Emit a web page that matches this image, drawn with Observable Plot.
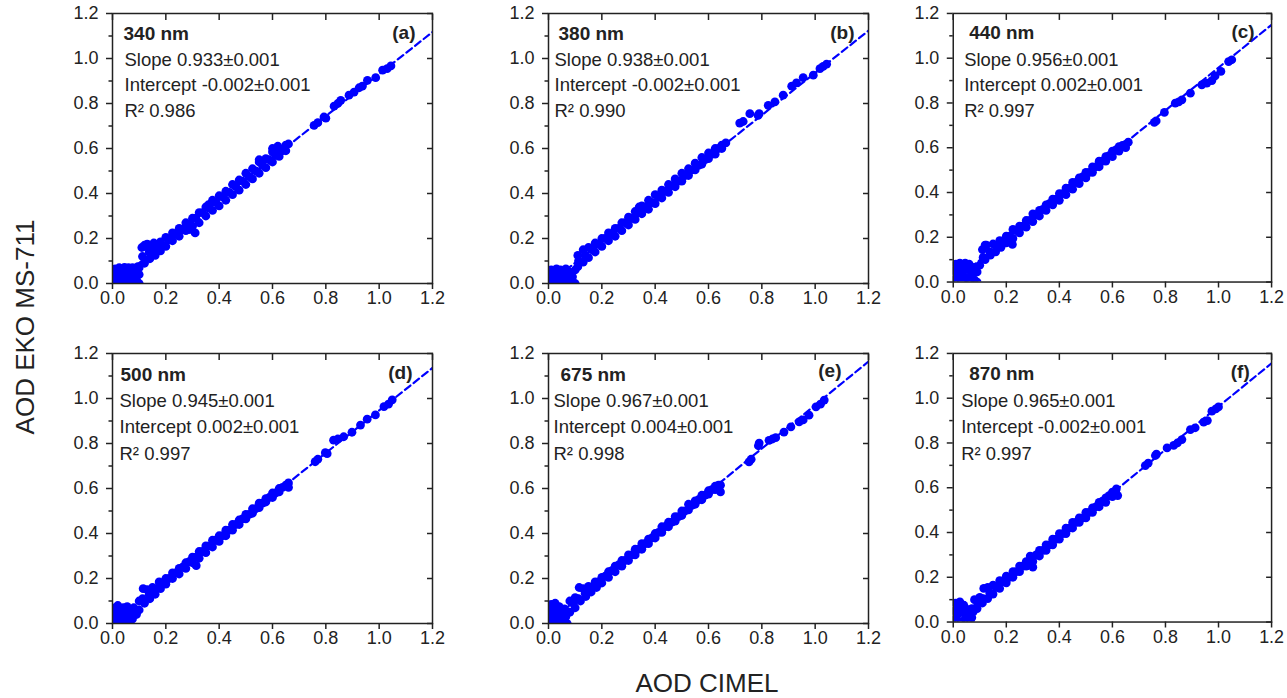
<!DOCTYPE html>
<html><head><meta charset="utf-8">
<script src="https://cdn.jsdelivr.net/npm/d3@7"></script>
<script src="https://cdn.jsdelivr.net/npm/@observablehq/plot@0.6"></script>
<style>
html,body{margin:0;padding:0;background:#fff}
body{width:1287px;height:698px;overflow:hidden;position:relative;font-family:"Liberation Sans",Arial,sans-serif;color:#222}
.panel{position:absolute}
.panel svg{overflow:visible}
#xtitle{position:absolute;left:707px;top:683px;transform:translate(-50%,-50%);font-size:26px;white-space:nowrap}
#ytitle{position:absolute;left:25px;top:327px;transform:translate(-50%,-50%) rotate(-90deg);font-size:26px;white-space:nowrap}
</style></head>
<body>
<div id="xtitle">AOD CIMEL</div>
<div id="ytitle">AOD EKO MS-711</div>
<script>
// ---- data ----
const wavelengths = ["340 nm", "380 nm", "440 nm", "500 nm", "675 nm", "870 nm"];
const letters = ["(a)", "(b)", "(c)", "(d)", "(e)", "(f)"];
const slopes = [0.933, 0.938, 0.956, 0.945, 0.967, 0.965];
const slopeErr = [0.001, 0.001, 0.001, 0.001, 0.001, 0.001];
const intercepts = [-0.002, -0.002, 0.002, 0.002, 0.004, -0.002];
const interceptErr = [0.001, 0.001, 0.001, 0.001, 0.001, 0.001];
const r2 = [0.986, 0.990, 0.997, 0.997, 0.998, 0.997];
const majorTicks = [0, 0.2, 0.4, 0.6, 0.8, 1.0, 1.2];
const minorTicks = [0.1, 0.3, 0.5, 0.7, 0.9, 1.1];

const pts340 = [
 [0.005,0.005],[0.005,0.035],[0.01,0.065],[0.015,0.02],[0.02,0.05],[0.025,0.07],[0.03,0.0],[0.03,0.03],[0.04,0.055],[0.045,0.072],[0.045,0.015],[0.05,0.04],[0.06,0.07],[0.06,0.0],[0.065,0.025],[0.07,0.05],[0.075,0.07],[0.08,0.005],[0.08,0.035],[0.09,0.055],[0.09,0.015],[0.1,0.0],[0.1,0.04],[0.095,0.075],
 [0.11,0.16],[0.125,0.165],[0.14,0.17],[0.16,0.17],[0.18,0.185],[0.2,0.205],[0.225,0.225],[0.25,0.245],[0.275,0.27],[0.3,0.29],[0.325,0.315],[0.35,0.34],[0.375,0.37],[0.4,0.39],[0.425,0.41],[0.45,0.44],[0.475,0.46],[0.5,0.49],[0.525,0.51],[0.55,0.54],[0.575,0.555],[0.6,0.585],[0.625,0.6],[0.65,0.615],[0.66,0.62],
 [0.1125,0.12],[0.1375,0.14],[0.1625,0.15],[0.1875,0.17],[0.2125,0.195],[0.2375,0.22],[0.2625,0.24],[0.2875,0.265],[0.3125,0.29],[0.3375,0.315],[0.3625,0.335],[0.3875,0.36],[0.4125,0.385],[0.4375,0.405],[0.4625,0.43],[0.4875,0.455],[0.5125,0.475],[0.5375,0.5],[0.5625,0.525],[0.5875,0.55],[0.6125,0.57],[0.6375,0.59],
 [0.1,0.07],[0.12,0.09],[0.14,0.11],[0.16,0.125],[0.18,0.145],[0.2,0.165],[0.225,0.19],[0.25,0.21],[0.275,0.235],[0.3,0.255],[0.325,0.27],[0.35,0.3],[0.375,0.325],[0.4,0.345],[0.425,0.37],[0.45,0.395],[0.475,0.415],[0.5,0.44],[0.525,0.465],[0.55,0.49],[0.575,0.515],[0.6,0.54],[0.625,0.565],[0.65,0.59],
 [0.12,0.17],[0.13,0.175],[0.155,0.18],[0.29,0.24],[0.31,0.225],[0.36,0.35],[0.55,0.55],[0.6,0.6],[0.62,0.61],
 [0.756,0.703],[0.77,0.715],[0.793,0.74],[0.80,0.735],[0.831,0.788],[0.845,0.80],[0.856,0.814],[0.887,0.837],[0.906,0.851],[0.925,0.87],[0.937,0.877],[0.956,0.903],[0.987,0.915],[1.013,0.948],[1.03,0.955],[1.044,0.967]
];
const pts380 = [
 [0.005,0.01],[0.005,0.04],[0.01,0.06],[0.02,0.02],[0.02,0.05],[0.03,0.065],[0.03,0.0],[0.035,0.035],[0.045,0.06],[0.045,0.015],[0.055,0.04],[0.06,0.0],[0.065,0.065],[0.07,0.025],[0.08,0.05],[0.085,0.005],[0.09,0.03],[0.1,0.0],[0.1,0.06],
 [0.11,0.125],[0.13,0.15],[0.15,0.16],[0.175,0.18],[0.2,0.2],[0.225,0.225],[0.25,0.245],[0.275,0.27],[0.3,0.295],[0.325,0.32],[0.35,0.345],[0.375,0.37],[0.4,0.395],[0.425,0.415],[0.45,0.44],[0.475,0.465],[0.5,0.49],[0.525,0.51],[0.55,0.535],[0.575,0.56],[0.6,0.58],[0.625,0.6],[0.65,0.615],[0.665,0.625],
 [0.1125,0.1],[0.1375,0.125],[0.1625,0.15],[0.1875,0.175],[0.2125,0.2],[0.2375,0.22],[0.2625,0.245],[0.2875,0.27],[0.3125,0.29],[0.3375,0.315],[0.3625,0.34],[0.3875,0.36],[0.4125,0.385],[0.4375,0.41],[0.4625,0.435],[0.4875,0.455],[0.5125,0.48],[0.5375,0.505],[0.5625,0.525],[0.5875,0.55],[0.6125,0.575],[0.6375,0.6],
 [0.11,0.075],[0.13,0.095],[0.15,0.115],[0.175,0.14],[0.2,0.165],[0.225,0.19],[0.25,0.21],[0.275,0.235],[0.3,0.26],[0.325,0.285],[0.35,0.31],[0.375,0.33],[0.4,0.355],[0.425,0.38],[0.45,0.405],[0.475,0.43],[0.5,0.455],[0.525,0.48],[0.55,0.505],[0.575,0.53],[0.6,0.555],[0.625,0.575],[0.65,0.6],
 [0.53,0.5],[0.34,0.34],
 [0.717,0.713],[0.73,0.72],[0.755,0.755],[0.786,0.747],[0.79,0.755],[0.824,0.792],[0.849,0.807],[0.88,0.837],[0.912,0.877],[0.93,0.892],[0.955,0.915],[0.993,0.926],[1.018,0.955],[1.03,0.965],[1.043,0.975]
];
const pts440 = [
 [0.005,0.01],[0.005,0.05],[0.01,0.08],[0.015,0.03],[0.02,0.06],[0.025,0.085],[0.03,0.01],[0.035,0.04],[0.04,0.07],[0.045,0.085],[0.05,0.02],[0.055,0.055],[0.06,0.08],[0.06,0.0],[0.07,0.035],[0.075,0.065],[0.08,0.01],[0.09,0.0],[0.09,0.045],
 [0.11,0.145],[0.125,0.165],[0.15,0.17],[0.175,0.185],[0.2,0.205],[0.225,0.235],[0.25,0.25],[0.275,0.275],[0.3,0.305],[0.325,0.32],[0.35,0.345],[0.375,0.37],[0.4,0.395],[0.425,0.42],[0.45,0.445],[0.475,0.465],[0.5,0.49],[0.525,0.515],[0.55,0.54],[0.575,0.56],[0.6,0.585],[0.625,0.605],[0.65,0.615],[0.66,0.625],
 [0.1125,0.11],[0.1375,0.135],[0.1625,0.155],[0.1875,0.18],[0.2125,0.205],[0.2375,0.23],[0.2625,0.25],[0.2875,0.275],[0.3125,0.3],[0.3375,0.325],[0.3625,0.35],[0.3875,0.37],[0.4125,0.395],[0.4375,0.42],[0.4625,0.445],[0.4875,0.47],[0.5125,0.49],[0.5375,0.515],[0.5625,0.54],[0.5875,0.565],[0.6125,0.59],[0.6375,0.61],
 [0.1,0.075],[0.12,0.1],[0.14,0.12],[0.16,0.135],[0.18,0.155],[0.2,0.175],[0.225,0.195],[0.25,0.22],[0.275,0.245],[0.3,0.27],[0.325,0.295],[0.35,0.32],[0.375,0.345],[0.4,0.365],[0.425,0.39],[0.45,0.415],[0.475,0.44],[0.5,0.465],[0.525,0.49],[0.55,0.515],[0.575,0.54],[0.6,0.56],[0.625,0.585],[0.65,0.6],
 [0.223,0.168],[0.12,0.165],
 [0.758,0.713],[0.765,0.72],[0.796,0.758],[0.837,0.799],[0.85,0.805],[0.862,0.814],[0.894,0.844],[0.937,0.881],[0.956,0.889],[0.975,0.9],[0.987,0.921],[1.009,0.941],[1.038,0.985],[1.05,0.993]
];
const pts500 = [
 [0.005,0.01],[0.005,0.045],[0.01,0.07],[0.015,0.025],[0.02,0.08],[0.025,0.055],[0.03,0.0],[0.035,0.035],[0.04,0.07],[0.045,0.01],[0.05,0.05],[0.055,0.075],[0.06,0.025],[0.065,0.0],[0.07,0.05],[0.075,0.02],[0.08,0.07],
 [0.1,0.1],[0.115,0.155],[0.13,0.15],[0.15,0.16],[0.175,0.185],[0.2,0.2],[0.225,0.225],[0.25,0.245],[0.275,0.27],[0.3,0.295],[0.325,0.32],[0.35,0.345],[0.375,0.37],[0.4,0.39],[0.425,0.415],[0.45,0.44],[0.475,0.46],[0.5,0.485],[0.525,0.51],[0.55,0.535],[0.575,0.555],[0.6,0.58],[0.625,0.6],[0.65,0.615],[0.66,0.625],
 [0.1125,0.11],[0.1375,0.13],[0.1625,0.155],[0.1875,0.18],[0.2125,0.2],[0.2375,0.225],[0.2625,0.25],[0.2875,0.275],[0.3125,0.295],[0.3375,0.32],[0.3625,0.345],[0.3875,0.37],[0.4125,0.39],[0.4375,0.415],[0.4625,0.44],[0.4875,0.465],[0.5125,0.485],[0.5375,0.51],[0.5625,0.535],[0.5875,0.56],[0.6125,0.58],[0.6375,0.605],
 [0.09,0.04],[0.1,0.06],[0.12,0.09],[0.14,0.11],[0.16,0.13],[0.18,0.155],[0.2,0.175],[0.225,0.2],[0.25,0.22],[0.275,0.245],[0.3,0.27],[0.325,0.29],[0.35,0.315],[0.375,0.34],[0.4,0.365],[0.425,0.39],[0.45,0.415],[0.475,0.44],[0.5,0.465],[0.525,0.49],[0.55,0.515],[0.575,0.54],[0.6,0.56],[0.625,0.585],[0.66,0.605],
 [0.314,0.257],
 [0.76,0.719],[0.77,0.73],[0.798,0.759],[0.805,0.755],[0.829,0.815],[0.845,0.82],[0.867,0.83],[0.898,0.85],[0.93,0.882],[0.955,0.908],[0.986,0.927],[1.018,0.964],[1.035,0.975],[1.049,0.994]
];
const pts675 = [
 [0.005,0.01],[0.005,0.05],[0.01,0.085],[0.015,0.03],[0.02,0.065],[0.025,0.09],[0.03,0.0],[0.03,0.045],[0.04,0.075],[0.04,0.02],[0.05,0.05],[0.055,0.005],[0.06,0.065],[0.065,0.03],[0.07,0.0],[0.075,0.05],
 [0.08,0.1],[0.1,0.115],[0.115,0.16],[0.13,0.155],[0.15,0.165],[0.175,0.185],[0.2,0.205],[0.225,0.23],[0.25,0.255],[0.275,0.28],[0.3,0.305],[0.325,0.33],[0.35,0.355],[0.375,0.375],[0.4,0.4],[0.425,0.43],[0.45,0.45],[0.475,0.475],[0.5,0.5],[0.525,0.53],[0.55,0.545],[0.575,0.57],[0.6,0.59],[0.625,0.61],[0.645,0.615],
 [0.0925,0.09],[0.1125,0.11],[0.1375,0.135],[0.1625,0.16],[0.1875,0.185],[0.2125,0.21],[0.2375,0.235],[0.2625,0.26],[0.2875,0.28],[0.3125,0.305],[0.3375,0.33],[0.3625,0.355],[0.3875,0.38],[0.4125,0.405],[0.4375,0.43],[0.4625,0.45],[0.4875,0.475],[0.5125,0.5],[0.5375,0.525],[0.5625,0.55],[0.5875,0.57],[0.6125,0.595],[0.6375,0.615],
 [0.08,0.05],[0.1,0.07],[0.12,0.1],[0.14,0.12],[0.16,0.14],[0.18,0.16],[0.2,0.18],[0.225,0.205],[0.25,0.23],[0.275,0.255],[0.3,0.28],[0.325,0.305],[0.35,0.33],[0.375,0.355],[0.4,0.38],[0.425,0.405],[0.45,0.43],[0.475,0.455],[0.5,0.48],[0.525,0.505],[0.55,0.53],[0.575,0.55],[0.6,0.575],[0.625,0.595],[0.645,0.585],
 [0.752,0.718],[0.76,0.73],[0.787,0.79],[0.79,0.802],[0.827,0.814],[0.84,0.82],[0.852,0.826],[0.883,0.851],[0.909,0.874],[0.94,0.896],[0.955,0.905],[0.977,0.926],[1.003,0.963],[1.02,0.975],[1.034,0.993]
];
const pts870 = [
 [0.005,0.01],[0.005,0.05],[0.008,0.085],[0.015,0.03],[0.02,0.065],[0.025,0.09],[0.03,0.0],[0.035,0.045],[0.04,0.075],[0.045,0.015],[0.055,0.055],[0.06,0.03],[0.065,0.0],[0.07,0.06],[0.07,0.02],
 [0.08,0.1],[0.1,0.11],[0.115,0.15],[0.13,0.155],[0.15,0.165],[0.175,0.185],[0.2,0.205],[0.225,0.225],[0.25,0.25],[0.275,0.27],[0.29,0.295],[0.3,0.29],[0.325,0.32],[0.35,0.345],[0.375,0.37],[0.4,0.395],[0.425,0.42],[0.45,0.445],[0.475,0.465],[0.5,0.49],[0.525,0.51],[0.55,0.535],[0.575,0.555],[0.6,0.58],[0.615,0.595],
 [0.0925,0.085],[0.1125,0.105],[0.1375,0.13],[0.1625,0.155],[0.1875,0.18],[0.2125,0.2],[0.2375,0.225],[0.2625,0.25],[0.2875,0.275],[0.3125,0.3],[0.3375,0.32],[0.3625,0.345],[0.3875,0.37],[0.4125,0.395],[0.4375,0.42],[0.4625,0.445],[0.4875,0.465],[0.5125,0.49],[0.5375,0.515],[0.5625,0.54],[0.5875,0.565],[0.6125,0.585],
 [0.075,0.045],[0.09,0.06],[0.11,0.085],[0.13,0.105],[0.15,0.125],[0.175,0.15],[0.2,0.175],[0.225,0.2],[0.25,0.225],[0.275,0.25],[0.3,0.27],[0.325,0.295],[0.35,0.32],[0.375,0.345],[0.4,0.37],[0.425,0.395],[0.45,0.42],[0.475,0.445],[0.5,0.465],[0.525,0.49],[0.55,0.515],[0.575,0.535],[0.6,0.56],[0.62,0.565],
 [0.3,0.245],
 [0.724,0.699],[0.735,0.71],[0.762,0.744],[0.766,0.75],[0.806,0.778],[0.831,0.789],[0.845,0.8],[0.862,0.815],[0.894,0.86],[0.912,0.868],[0.944,0.893],[0.958,0.9],[0.975,0.942],[0.99,0.952],[1.0,0.961]
];
const points = [pts340, pts380, pts440, pts500, pts675, pts870];

// ---- layout (positions / styles) ----
const blue = "#0000ff";
const ink = "#222";
const areaLeft = [112, 548, 953];
const areaTop = [13, 353];
const W = 320, H = 270;
const mL = 50, mR = 16, mT = 10, mB = 40;
const headDx = [11, 10, 16, 8, 12, 16];
const statDx = [12, 6, 11, 7, 5, 8];
const rowDy = [[20, 47, 72, 98], [21, 48, 74, 101]];
const letterDx = [-17, -14, -17, -20, -27, -22];
const letterDy = [19, 19, 19, 19, 17, 19];
const fmt1 = d3.format(".1f");
const axisStyle = {label: null, stroke: ink, strokeWidth: 1.5};

points.forEach((pts, i) => {
  const col = i % 3, row = Math.floor(i / 3);
  const dys = rowDy[row];
  const fit = [0, 1.2].map(x => ({x, y: slopes[i] * x + intercepts[i]}));
  const lines = [
    `Slope ${slopes[i].toFixed(3)}±${slopeErr[i].toFixed(3)}`,
    `Intercept ${intercepts[i].toFixed(3)}±${interceptErr[i].toFixed(3)}`,
    `R² ${r2[i].toFixed(3)}`
  ];
  const txt = {frameAnchor: "top-left", textAnchor: "start", lineAnchor: "middle", fill: ink, fontSize: 18.5};
  const chart = Plot.plot({
    width: mL + W + mR, height: mT + H + mB,
    marginLeft: mL, marginRight: mR, marginTop: mT, marginBottom: mB,
    x: {domain: [0, 1.2], label: null}, y: {domain: [0, 1.2], label: null},
    style: {fontFamily: '"Liberation Sans", Arial, sans-serif', fontSize: "18px", color: ink, background: "transparent", overflow: "visible"},
    marks: [
      Plot.line(fit, {x: "x", y: "y", stroke: blue, strokeWidth: 2.2, strokeDasharray: "7,4", clip: true}),
      Plot.dot(pts, {x: d => d[0], y: d => d[1], r: 4.4, fill: blue, stroke: null, clip: true}),
      Plot.frame({stroke: ink, strokeWidth: 1.5}),
      Plot.axisX(majorTicks, {...axisStyle, tickSize: 6, tickPadding: 2, tickFormat: fmt1, fontSize: 18, fill: ink}),
      Plot.axisY(majorTicks, {...axisStyle, tickSize: 6, tickPadding: 8, tickFormat: fmt1, fontSize: 18, fill: ink}),
      Plot.axisY(minorTicks, {...axisStyle, tickSize: 3.5, tickFormat: () => ""}),
      Plot.axisX(majorTicks, {...axisStyle, anchor: "top", tickSize: 6, dy: 6, tickFormat: () => ""}),
      Plot.axisY(majorTicks, {...axisStyle, anchor: "right", tickSize: 6, dx: -6, tickFormat: () => ""}),
      Plot.text([wavelengths[i]], {...txt, text: d => d, dx: headDx[i], dy: dys[0], fontWeight: "bold", fontSize: 19}),
      Plot.text([lines[0]], {...txt, text: d => d, dx: statDx[i], dy: dys[1]}),
      Plot.text([lines[1]], {...txt, text: d => d, dx: statDx[i], dy: dys[2]}),
      Plot.text([lines[2]], {...txt, text: d => d, dx: statDx[i], dy: dys[3]}),
      Plot.text([letters[i]], {text: d => d, frameAnchor: "top-right", textAnchor: "end", lineAnchor: "middle", dx: letterDx[i], dy: letterDy[i], fontWeight: "bold", fontSize: 19, fill: ink})
    ]
  });
  const div = document.createElement("div");
  div.className = "panel";
  div.style.left = (areaLeft[col] - mL) + "px";
  div.style.top = (areaTop[row] - mT) + "px";
  div.appendChild(chart);
  document.body.appendChild(div);
});
</script>
</body></html>
